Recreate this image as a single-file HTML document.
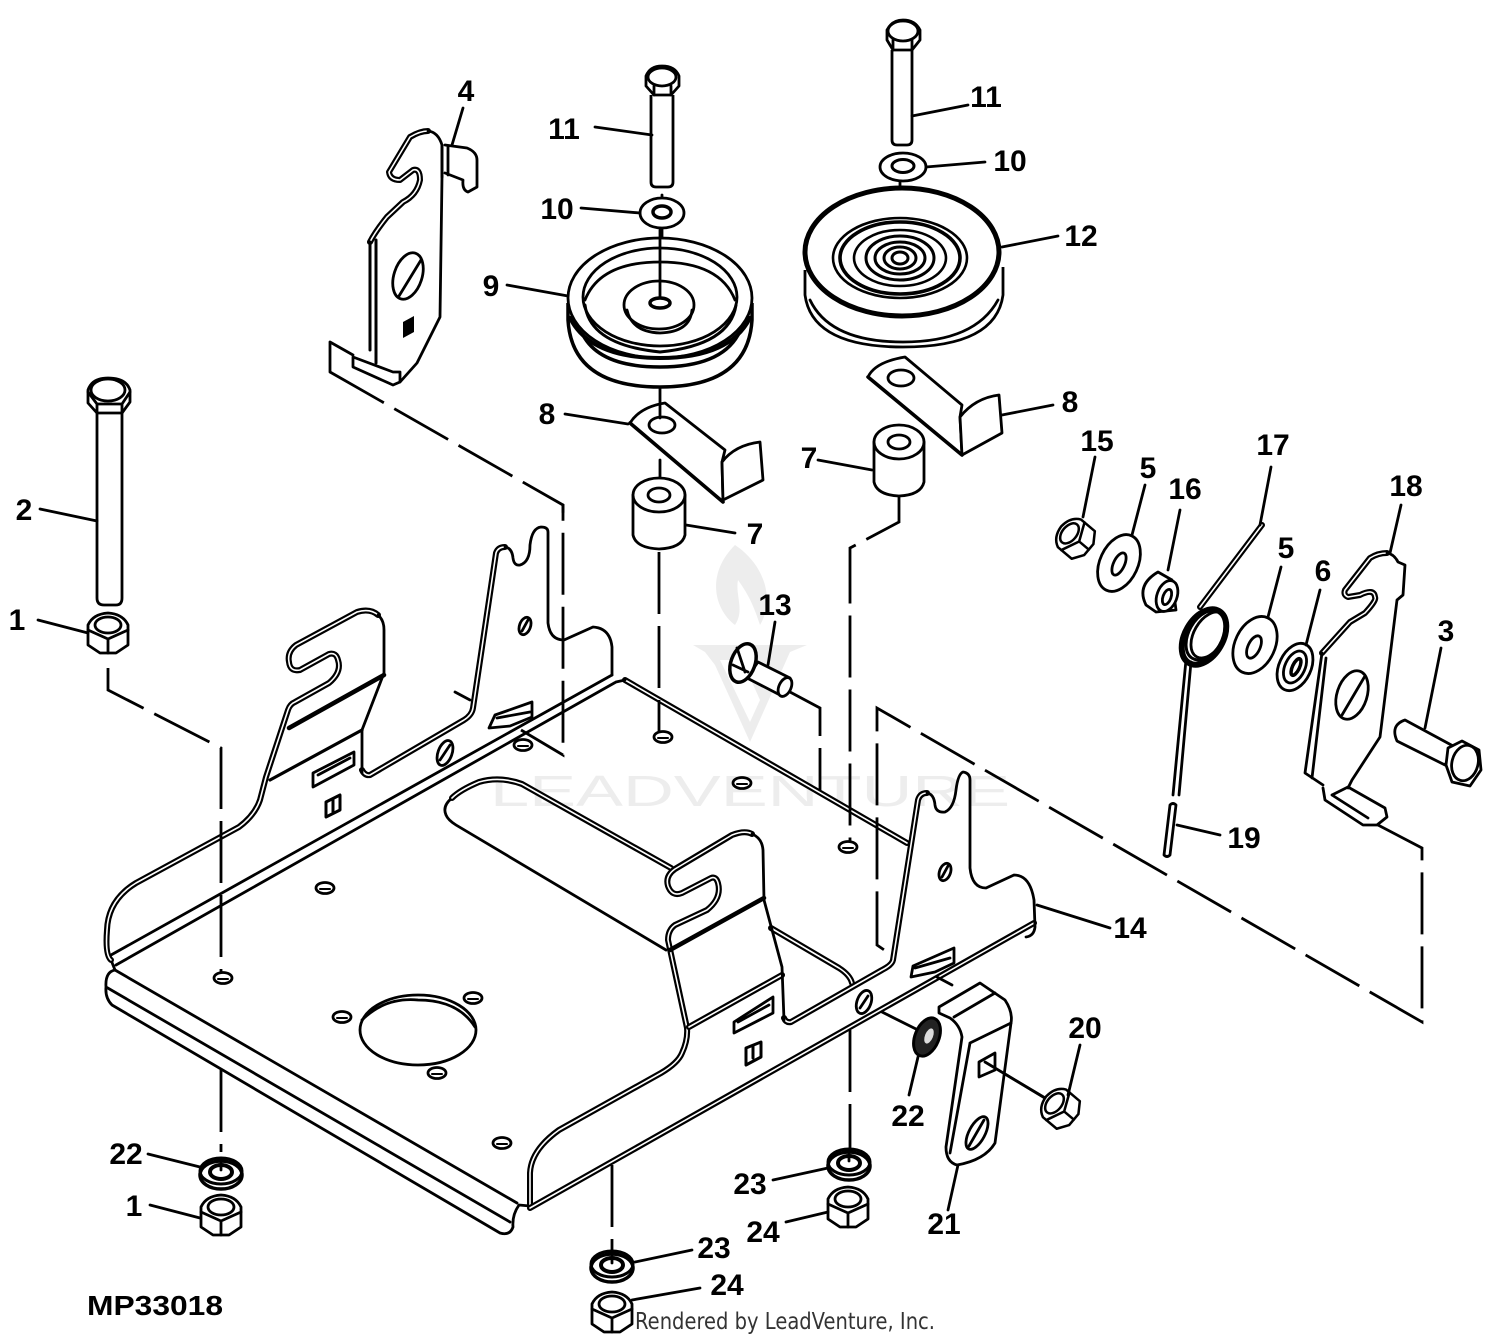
<!DOCTYPE html>
<html><head><meta charset="utf-8"><style>
html,body{margin:0;padding:0;background:#fff}
svg{display:block}
.l{fill:none;stroke:#000;stroke-width:2.8;stroke-linejoin:round;stroke-linecap:round}
.f{fill:#fff;stroke:#000;stroke-width:2.8;stroke-linejoin:round}
.d{fill:none;stroke:#000;stroke-width:2.8;stroke-dasharray:62 12}
.o{fill:none;stroke:#000;stroke-width:6;stroke-linejoin:round;stroke-linecap:round}
.w{fill:none;stroke:#fff;stroke-width:1.6;stroke-linejoin:round;stroke-linecap:round}
.n{font:bold 30px "Liberation Sans",sans-serif;fill:#000;text-anchor:middle}
</style></head><body>
<svg width="1500" height="1338" viewBox="0 0 1500 1338" xmlns="http://www.w3.org/2000/svg">
<defs>
<g id="nut"><path class="f" d="M-20-8Q-15-19 0-20Q15-19 20-8L20 12L8 20L-8 20L-20 12Z"/><ellipse class="l" cx="0" cy="-8" rx="13" ry="8"/><path class="l" d="M-20-3L0 6L20-3M0 6V20"/></g>
<g id="lw"><ellipse class="f" cx="0" cy="3" rx="21" ry="14" style="stroke-width:3.5"/><ellipse class="l" cx="0" cy="-1" rx="21" ry="13" style="stroke-width:3"/><ellipse class="l" cx="0" cy="0" rx="11" ry="7" style="stroke-width:4"/><path class="l" d="M0-13V-2"/></g>
<g id="hole"><ellipse class="l" rx="9" ry="5.5"/><path class="l" d="M-5 1H5" style="stroke-width:2"/></g>
<path id="a1" d="M111 960Q105 955 107 930Q108 900 136 883L239 827Q255 815 260 800L266 777L288 710Q290 704 295 702L329 683Q342 672 338 660Q336 652 329 654L300 670Q290 672 289 662Q287 652 296 645L357 612Q370 608 378 615"/>
<path id="a2" d="M362 770Q365 776 370 775L464 720Q472 715 473 708L496 553Q498 547 505 547"/>
<path id="a3" d="M530 1206L530 1173Q531 1150 559 1130L661 1073Q678 1063 682 1053Q688 1040 687 1028L668 940Q668 930 675 925L707 910Q722 898 718 883Q716 876 711 878L682 893Q672 897 668 886Q665 876 675 869L732 835Q745 830 752 834"/>
<path id="a4" d="M784 1018Q786 1023 791 1022L882 970Q892 965 893 960L918 800Q920 793 927 793"/>
<path id="a5" d="M625 680L907 843"/>
<path id="a6" d="M530 1208L1034 923"/>
<path id="a7" d="M771 928L839 968Q850 975 852 983"/>
<path id="a8" d="M689 1027L782 975"/>
<path id="a9" d="M452 798Q460 790 479 782Q500 776 522 784L671 868"/>
<path id="b1" d="M370 242Q375 232 387 217L403 202Q417 195 420 180Q420 168 413 170L400 180Q390 180 389 172L410 137Q420 131 428 131"/>
<path id="b2" d="M1322 653L1350 622L1365 613Q1377 600 1375 597Q1374 588 1360 595L1348 597Q1343 595 1345 590L1370 558Q1378 553 1387 553"/>
<path id="b3" d="M1200 607L1262 525"/>
</defs>
<!-- watermark -->
<g fill="#ededed">
<path d="M735 545C765 565 775 600 760 625C752 600 745 590 738 580C735 595 745 610 735 625C715 610 705 575 735 545Z"/>
<path d="M693 645H807L790 652L750 742L715 665L705 652ZM720 660L750 722L760 700L742 660Z" fill-rule="evenodd"/>
<text x="490" y="806" font-family="Liberation Sans,sans-serif" font-size="44" textLength="520" lengthAdjust="spacingAndGlyphs">LEADVENTURE</text>
</g>

<!-- plate -->
<use href="#a5" class="o"/><use href="#a5" class="w"/>
<path class="l" d="M111 955L612 675M116 965L616 682M616 682L625 680M111 960L115 970"/>
<path class="l" d="M115 970L517 1203M106 987L510 1222M115 970Q105 972 106 987Q105 998 112 1005L500 1233Q510 1236 513 1227Q512 1215 519 1205L530 1206"/>
<path class="l" d="M452 798Q442 806 446 815Q448 820 456 825L666 950"/>
<use href="#a9" class="o"/><use href="#a9" class="w"/>
<ellipse class="l" cx="418" cy="1030" rx="58" ry="35"/>
<path class="l" d="M362 1020Q385 997 418 1000Q458 1000 475 1027"/>
<use href="#hole" x="342" y="1017"/><use href="#hole" x="473" y="998"/><use href="#hole" x="437" y="1073"/><use href="#hole" x="502" y="1143"/><use href="#hole" x="223" y="978"/><use href="#hole" x="325" y="888"/><use href="#hole" x="663" y="737"/><use href="#hole" x="742" y="783"/><use href="#hole" x="848" y="847"/><use href="#hole" x="523" y="745"/>

<!-- left wall -->
<use href="#a1" class="o"/><use href="#a1" class="w"/>
<use href="#a2" class="o"/><use href="#a2" class="w"/>
<path class="l" d="M378 615Q384 620 384 630L384 673L362 730L362 773"/>
<path class="l" d="M505 547Q512 548 513 558Q514 566 520 565Q530 562 530 545Q532 528 541 527Q548 527 548 532L548 623Q550 640 564 640L593 627Q610 628 612 647L612 675"/>
<path class="l" d="M289 728L384 675" style="stroke-width:4.5"/>
<path class="l" d="M270 780L362 730" style="stroke-width:3.2"/>
<path class="l" d="M313 773L354 752V765L313 787ZM318 775L350 758"/>
<path class="l" d="M326 802L340 795V810L326 817ZM333 800V812" style="stroke-width:3"/>
<ellipse class="l" cx="445" cy="753" rx="7" ry="13" transform="rotate(20 445 753)"/><path class="l" d="M440 760L450 745"/>
<ellipse class="l" cx="525" cy="626" rx="5.5" ry="9" transform="rotate(20 525 626)"/><path class="l" d="M522 631L528 620"/>
<path class="l" d="M489 728L495 715L532 702V717L510 726ZM497 718L530 712"/>
<path class="l" d="M455 692L470 700"/>

<!-- right wall -->
<use href="#a7" class="o"/><use href="#a7" class="w"/>
<use href="#a3" class="o"/><use href="#a3" class="w"/>
<use href="#a4" class="o"/><use href="#a4" class="w"/>
<use href="#a6" class="o"/><use href="#a6" class="w"/>
<use href="#a8" class="o"/><use href="#a8" class="w"/>
<path class="l" d="M752 834Q762 838 763 850L764 900L782 967L784 1020"/>
<path class="l" d="M927 793Q934 794 935 805Q936 813 945 812Q954 808 956 790Q958 774 963 772Q970 773 970 780L970 868Q972 888 986 888L1014 875Q1030 875 1034 900L1035 927Q1034 936 1026 937"/>
<path class="l" d="M670 950L764 898" style="stroke-width:4.5"/>
<path class="l" d="M734 1022L773 997V1013L734 1033ZM738 1022L769 1005"/>
<path class="l" d="M746 1048L761 1042V1057L746 1065ZM753 1046V1058" style="stroke-width:3"/>
<ellipse class="l" cx="864" cy="1002" rx="7" ry="12" transform="rotate(20 864 1002)"/><path class="l" d="M860 1008L868 996"/>
<ellipse class="l" cx="945" cy="872" rx="5.5" ry="9" transform="rotate(20 945 872)"/><path class="l" d="M942 877L948 866"/>
<path class="l" d="M911 977L913 966L954 948V963L935 972ZM915 968L950 958"/>

<!-- dashed connectors -->
<path class="d" d="M108 668V690L221 748V972"/>
<path class="d" d="M221 1070V1152"/>
<path class="d" d="M330 372L563 505V755L521 730"/>
<path class="l" d="M563 505V512"/>
<path class="d" d="M659 552V732" />
<path class="d" d="M790 692L820 708V790"/>
<path class="d" d="M899 497V522L850 548V842"/>
<path class="d" d="M1378 825L1422 848V1022L877 708V945L893 956"/>
<path class="d" d="M850 1030V1152"/>
<path class="d" d="M612 1165V1262"/>
<path class="l" d="M882 1012L918 1030M937 977L952 985M985 1062L1045 1098"/>
<path class="l" d="M662 195V300M660 385V405M660 460V478M900 178V188"/>

<!-- part 4 -->
<path class="l" d="M330 342L353 355M330 342V372"/>
<path class="f" d="M370 242L442 177L440 317L417 363L400 382L370 350Z" style="stroke:none"/>
<use href="#b1" class="o"/><use href="#b1" class="w"/>
<path class="l" d="M428 131Q438 132 442 145L442 177L440 317L417 363L400 382"/>
<path class="l" d="M370 242V350M376 240V363" style="stroke-width:3"/>
<path class="f" d="M353 357L393 372L400 372V382L393 385L353 367Z"/>
<path class="l" d="M445 145L467 148Q477 152 477 160V187L468 192Q462 190 463 180L445 173M442 145V177M448 146V175"/>
<ellipse class="f" cx="408" cy="276" rx="14" ry="24" transform="rotate(18 408 276)"/>
<path class="l" d="M399 296L421 260"/>
<path d="M403 322L414 316V332L403 338Z" fill="#000"/>

<!-- bolt 2, nut 1 -->
<path class="f" d="M97 412V598Q97 605 104 605H116Q122 605 122 598V412"/>
<path class="f" d="M88 390Q92 378 108 378Q126 378 130 390V402L122 413H97L88 403Z"/>
<path class="l" d="M88 392L97 404H122L130 392M97 404V413M122 404V413"/>
<ellipse class="l" cx="108" cy="390" rx="17" ry="11"/>
<use href="#nut" x="108" y="633"/>

<!-- bolts 11 -->
<path class="f" d="M651 95V182Q651 187 656 187H668Q673 187 673 182V95"/>
<path class="f" d="M646 76Q650 66 662 66Q675 66 679 76V86L671 95H654L646 86Z"/><ellipse class="l" cx="662" cy="77" rx="14" ry="9"/><path class="l" d="M654 86V95M671 86V95"/>
<path class="f" d="M892 50V140Q892 145 897 145H907Q912 145 912 140V50"/>
<path class="f" d="M887 30Q892 20 903 20Q915 20 920 30V40L912 50H893L887 40Z"/><ellipse class="l" cx="903" cy="31" rx="15" ry="10"/><path class="l" d="M893 40V50M912 40V50"/>
<ellipse class="f" cx="662" cy="213" rx="22" ry="15"/><ellipse class="l" cx="662" cy="212" rx="9" ry="6" style="stroke-width:3.5"/>
<ellipse class="f" cx="903" cy="167" rx="23" ry="14"/><ellipse class="l" cx="903" cy="166" rx="11" ry="6.5" style="stroke-width:3"/>

<!-- pulley 9 -->
<path class="f" d="M568 303V320Q572 387 660 387Q748 387 752 320V303" style="stroke-width:3.5"/>
<path class="l" d="M583 335Q600 367 660 367Q720 367 738 335" style="stroke-width:3.5"/>
<ellipse class="f" cx="660" cy="298" rx="92" ry="60"/>
<path class="l" d="M570 318Q590 358 660 358Q730 358 750 318" style="stroke-width:4"/>
<ellipse class="l" cx="660" cy="297" rx="77" ry="49"/>
<path class="l" d="M585 305Q590 345 660 352Q730 345 736 305" style="stroke-width:3"/>
<path class="l" d="M585 300Q600 262 660 262Q720 262 735 300"/>
<ellipse class="l" cx="659" cy="305" rx="35" ry="24"/>
<path class="l" d="M627 310Q632 332 660 333Q690 332 692 310"/>
<ellipse class="l" cx="660" cy="303" rx="10" ry="5" style="stroke-width:3.5"/>
<path class="l" d="M660 230V297"/>

<!-- pulley 12 -->
<path class="f" d="M805 270V295Q812 347 903 347Q996 347 1003 295V267"/>
<path class="l" d="M810 300Q830 342 903 342Q975 342 998 300"/>
<ellipse class="f" cx="902" cy="252" rx="97" ry="64" style="stroke-width:5"/>
<g fill="none" stroke="#000">
<ellipse cx="900" cy="258" rx="67" ry="40" stroke-width="2.6"/>
<ellipse cx="900" cy="258" rx="60" ry="36" stroke-width="3.6"/>
<ellipse cx="900" cy="258" rx="46" ry="28" stroke-width="2.6"/>
<ellipse cx="900" cy="258" rx="34" ry="22" stroke-width="3"/>
<ellipse cx="900" cy="258" rx="25" ry="16" stroke-width="3"/>
<ellipse cx="900" cy="258" rx="16" ry="11" stroke-width="3"/>
<ellipse cx="900" cy="258" rx="8" ry="6" stroke-width="3"/>
</g>

<!-- part 8 -->
<path class="f" d="M630 423Q640 407 665 403L725 450L722 462L723 502Z"/>
<path class="f" d="M722 462Q735 445 760 442L763 480L723 500Z"/>
<path class="l" d="M630 423L723 502" style="stroke-width:3.6"/>
<ellipse class="f" cx="662" cy="425" rx="13" ry="8"/>
<path class="l" d="M660 405V418"/>
<path class="f" d="M868 377Q875 362 905 357L962 405L960 417L962 455Z"/>
<path class="f" d="M960 417Q975 398 999 395L1002 433L962 455Z"/>
<path class="l" d="M868 377L962 455" style="stroke-width:3.6"/>
<ellipse class="f" cx="901" cy="378" rx="13" ry="8"/>

<!-- spacers 7 -->
<path class="f" d="M633 495V535Q636 548 659 549Q682 548 685 535V495Z"/>
<ellipse class="f" cx="659" cy="495" rx="26" ry="17"/><ellipse class="l" cx="659" cy="495" rx="11" ry="7"/>
<path class="f" d="M874 442V482Q877 495 899 496Q921 495 924 482V442Z"/>
<ellipse class="f" cx="899" cy="442" rx="25" ry="17"/><ellipse class="l" cx="899" cy="442" rx="11" ry="7"/>

<!-- bolt 13 -->
<path class="f" d="M758 662L790 678L780 695L747 678Z"/>
<ellipse class="f" cx="785" cy="687" rx="6" ry="10" transform="rotate(25 785 687)"/>
<ellipse class="f" cx="743" cy="663" rx="12" ry="20" transform="rotate(20 743 663)" style="stroke-width:3.5"/>
<path class="l" d="M737 648L745 672M733 665L748 672"/>

<!-- right side parts -->
<g transform="translate(1075 538) rotate(-50) scale(.9)"><use href="#nut"/></g>
<ellipse class="f" cx="1119" cy="563" rx="19" ry="30" transform="rotate(25 1119 563)"/><ellipse class="l" cx="1119" cy="564" rx="5.5" ry="12" transform="rotate(25 1119 564)"/>
<path class="f" d="M1158 572L1172 580L1176 610L1156 612L1146 605Q1136 585 1158 572Z"/>
<ellipse class="f" cx="1167" cy="596" rx="10" ry="16" transform="rotate(20 1167 596)"/><ellipse class="l" cx="1167" cy="597" rx="4" ry="8" transform="rotate(20 1167 597)"/>
<use href="#b3" class="o"/><use href="#b3" class="w"/>
<ellipse class="l" cx="1204" cy="637" rx="19" ry="30" transform="rotate(30 1204 637)" style="stroke-width:6"/>
<ellipse class="l" cx="1206" cy="635" rx="17" ry="27" transform="rotate(30 1206 635)" style="stroke-width:3"/>
<ellipse class="l" cx="1209" cy="635" rx="15" ry="25" transform="rotate(30 1209 635)" fill="#fff"/>
<path class="l" d="M1186 660L1173 795M1191 662L1179 795"/>
<path class="l" d="M1170 805Q1173 802 1176 805L1170 855Q1167 858 1164 855Z"/>
<ellipse class="f" cx="1255" cy="645" rx="20" ry="30" transform="rotate(25 1255 645)"/><ellipse class="l" cx="1254" cy="647" rx="6" ry="12" transform="rotate(25 1254 647)"/>
<ellipse class="f" cx="1295" cy="667" rx="16" ry="25" transform="rotate(25 1295 667)"/><ellipse class="l" cx="1295" cy="667" rx="10" ry="17" transform="rotate(25 1295 667)"/><ellipse class="l" cx="1296" cy="667" rx="3.5" ry="9" transform="rotate(25 1296 667)" style="stroke-width:3.5"/>

<!-- part 18 -->
<use href="#b2" class="o"/><use href="#b2" class="w"/>
<path class="l" d="M1387 553Q1394 554 1398 562L1405 565L1403 595L1397 600L1380 737L1352 780L1348 788"/>
<path class="l" d="M1322 653L1305 773L1323 785M1326 658L1312 778"/>
<path class="l" d="M1323 788L1325 800L1363 825H1377L1387 817L1385 808L1348 787M1332 795Q1338 792 1348 787M1332 795L1368 818"/>
<ellipse class="f" cx="1352" cy="695" rx="15" ry="25" transform="rotate(18 1352 695)"/><path class="l" d="M1342 715L1365 676"/>

<!-- bolt 3 -->
<path class="f" d="M1405 720L1455 747L1445 765L1397 741Q1390 725 1405 720Z"/>
<path class="f" d="M1448 748L1462 741L1479 750L1481 770L1470 786L1452 782L1446 765Z"/>
<ellipse class="l" cx="1465" cy="763" rx="13" ry="18" transform="rotate(15 1465 763)"/>

<!-- part 21 / washers / nuts -->
<ellipse cx="927" cy="1037" rx="12" ry="20" transform="rotate(22 927 1037)" fill="#222" stroke="#000" stroke-width="3"/>
<ellipse cx="929" cy="1036" rx="4" ry="8" transform="rotate(22 929 1036)" fill="#ddd"/>
<path class="f" d="M939 1007L980 983L1005 1000Q1013 1012 1011 1023L995 1143Q985 1160 957 1165Q946 1162 946 1147L962 1037Q960 1025 950 1018L939 1013Z"/>
<path class="l" d="M954 1017L995 993M970 1043L1011 1023M970 1043L950 1153"/>
<path class="f" d="M979 1062L995 1053V1070L979 1077Z"/>
<ellipse class="f" cx="977" cy="1133" rx="8" ry="18" transform="rotate(28 977 1133)"/><path class="l" d="M969 1146L984 1120"/>
<path class="l" d="M985 1062L1045 1098"/>
<g transform="translate(1060 1108) rotate(-50) scale(.9)"><use href="#nut"/></g>
<use href="#lw" x="221" y="1172"/>
<use href="#nut" x="221" y="1215"/>
<use href="#lw" x="849" y="1163"/>
<use href="#nut" x="848" y="1207"/>
<use href="#lw" x="612" y="1265"/>
<use href="#nut" x="612" y="1312"/>

<!-- leaders -->
<path class="l" d="M463 108L452 145M595 127L652 135M968 105L912 116M581 208L640 213M985 162L926 167M1058 236L1002 247M507 285L568 296M565 414L628 424M1053 405L1002 415M818 460L872 470M735 533L686 525M40 509L97 521M38 620L88 633M775 622L768 665M1095 457L1083 517M1145 485L1132 535M1180 510L1168 570M1271 467L1260 525M1401 505L1390 553M1281 567L1268 617M1320 590L1306 645M1441 648L1425 728M1177 825L1220 835M958 1165L948 1210M918 1057L909 1095M773 1180L828 1168M786 1222L828 1212M1037 905L1110 928M1080 1045L1068 1095M148 1154L200 1167M150 1205L200 1218M692 1250L635 1262M700 1288L632 1300"/>

<!-- labels -->
<g class="n">
<text class="n" x="466" y="101">4</text><text class="n" x="564" y="139">11</text><text class="n" x="986" y="107">11</text><text class="n" x="557" y="219">10</text><text class="n" x="1010" y="171">10</text><text class="n" x="1081" y="246">12</text><text class="n" x="491" y="296">9</text><text class="n" x="547" y="424">8</text><text class="n" x="1070" y="412">8</text><text class="n" x="809" y="468">7</text><text class="n" x="755" y="544">7</text><text class="n" x="24" y="520">2</text><text class="n" x="17" y="630">1</text><text class="n" x="775" y="615">13</text><text class="n" x="1097" y="451">15</text><text class="n" x="1148" y="478">5</text><text class="n" x="1185" y="499">16</text><text class="n" x="1273" y="455">17</text><text class="n" x="1406" y="496">18</text><text class="n" x="1286" y="558">5</text><text class="n" x="1323" y="581">6</text><text class="n" x="1446" y="641">3</text><text class="n" x="1244" y="848">19</text><text class="n" x="1130" y="938">14</text><text class="n" x="1085" y="1038">20</text><text class="n" x="908" y="1126">22</text><text class="n" x="944" y="1234">21</text><text class="n" x="126" y="1164">22</text><text class="n" x="134" y="1216">1</text><text class="n" x="750" y="1194">23</text><text class="n" x="763" y="1242">24</text><text class="n" x="714" y="1258">23</text><text class="n" x="727" y="1295">24</text>
</g>
<text x="87" y="1315" font-family="Liberation Sans,sans-serif" font-weight="bold" font-size="28" textLength="136" lengthAdjust="spacingAndGlyphs">MP33018</text>
<text x="635" y="1329" font-family="DejaVu Sans,sans-serif" font-size="23" fill="#333" textLength="300" lengthAdjust="spacingAndGlyphs">Rendered by LeadVenture, Inc.</text>
</svg>
</body></html>
